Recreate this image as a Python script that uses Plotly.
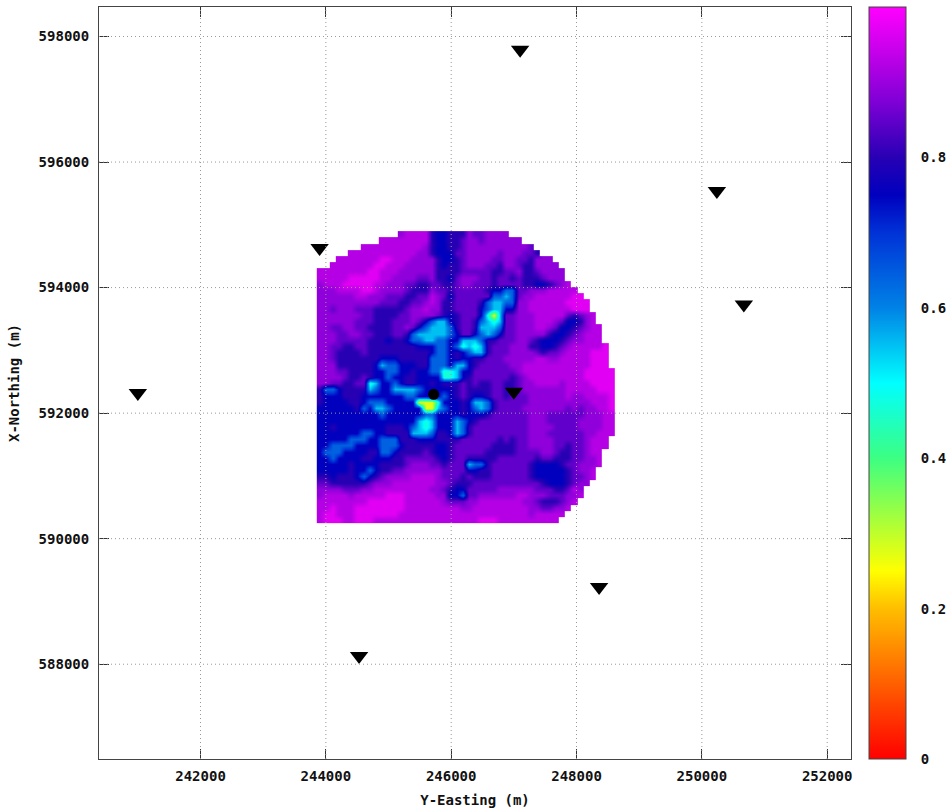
import plotly.graph_objects as go

font_family = "DejaVu Sans Mono"
x_ticks = [242000, 244000, 246000, 248000, 250000, 252000]
y_ticks = [588000, 590000, 592000, 594000, 596000, 598000]
cbar_ticks = [0, 0.2, 0.4, 0.6, 0.8, 1]
cbar_labels = ["0", "0.2", "0.4", "0.6", "0.8", "1"]

sensor_x = [241000, 243900, 247100, 250240, 250670, 247000, 248360, 244530]
sensor_y = [592320, 594630, 597790, 595540, 593730, 592340, 589230, 588130]
source_x = [245720]
source_y = [592300]

# Sampling grid
cell_m = 99
grid_x0 = 243905
grid_y_top = 594850
digit_value = {"0": 0.27, "1": 0.47, "2": 0.55, "3": 0.64, "4": 0.75,
               "5": 0.80, "6": 0.85, "7": 0.89, "8": 0.925, "9": 0.97}
rows = [
"...... ...... .78888 544555 766777 7..... ...... ......",
"...... ....88 888888 544556 776777 777... ...... ......",
"...... .88888 888887 544556 777777 77776. ...... ......",
".....8 888888 888877 544466 777776 777665 ...... ......",
"...888 888899 888777 754456 777766 776657 77.... ......",
"..8888 888998 887777 754556 777665 776557 777... ......",
"888888 889988 877777 755556 666655 667556 7777.. ......",
"888889 999988 777766 755467 776656 656555 6777.. ......",
"788899 999887 776655 665567 766656 666554 45678. ......",
"777888 899877 776555 766566 666544 336677 788888 ......",
"777777 887776 665566 876466 666633 236778 888889 9.....",
"777777 777766 655667 875566 665322 337788 888899 99....",
"776777 666555 556778 775566 664322 447788 888889 99....",
"777777 766555 566777 765456 664102 667778 888865 678...",
"777777 666555 666764 322456 653212 667778 887644 578...",
"776677 665555 667643 222356 652223 667778 876445 6788..",
"777667 766555 665322 222346 643234 667777 754456 7888..",
"777666 665554 554332 233442 223556 667765 444567 7888..",
"776655 665555 555544 433431 212566 677755 445678 88889.",
"776555 565555 555555 433454 322566 677776 566788 88999.",
"776555 555544 455555 333454 455666 777778 877888 88999.",
"777555 555423 344455 333422 456666 677888 888888 88999.",
"777665 555443 344544 331124 466666 667888 888888 899999",
"777765 565443 445544 441124 566666 656788 888888 899999",
"776655 661244 345544 545556 565566 556778 888788 889999",
"533455 552344 222234 444456 555566 556777 777788 888999",
"544455 544444 443344 543456 544566 566677 777787 788889",
"544445 543334 444400 014445 422356 666677 777777 778889",
"444444 534223 444440 023445 432356 666777 777767 677889",
"444444 444434 444443 344445 444566 666677 766666 677788",
"444444 444444 444421 244423 456666 666677 766666 777788",
"445444 444445 554321 244423 566666 666677 776666 777788",
"444444 433445 555222 355423 566666 666677 766666 677888",
"444443 334433 355544 455556 666665 656677 776666 67888.",
"443333 444433 345555 544566 666655 556677 776656 67888.",
"433344 445533 455556 544566 666555 556666 776556 6788..",
"443444 455444 556666 654566 555556 666665 665556 6778..",
"444445 444455 556777 665666 233566 666654 444566 7778..",
"444445 443455 667777 776666 445566 666654 444456 778...",
"554555 434567 777888 876665 655566 666654 444456 678...",
"665555 556777 888888 877655 566666 666666 544456 77....",
"777766 677888 888888 776544 666667 777776 665568 7.....",
"788887 888889 998888 877443 667777 778877 766677 8.....",
"888888 889999 998888 887666 778888 888776 555678 ......",
"889888 999999 998888 888887 788888 888877 66778. ......",
"899888 999999 988888 888888 888888 888878 8888.. ......",
"899988 999888 888888 888888 889998 888888 888... ......",
]

z = [[digit_value.get(ch) for ch in r.replace(" ", "")] for r in rows]
n_cols = len(z[0])
n_rows = len(z)
xs = [grid_x0 + i * cell_m for i in range(n_cols)]
ys = [grid_y_top - i * cell_m for i in range(n_rows)]

colorscale = [
    [0.0, "rgb(255,0,0)"], [0.2, "rgb(255,190,0)"], [0.25, "rgb(255,255,0)"],
    [0.4, "rgb(60,255,130)"], [0.5, "rgb(0,255,255)"], [0.6, "rgb(0,130,230)"],
    [0.7, "rgb(0,50,215)"], [0.75, "rgb(0,0,190)"], [0.8, "rgb(40,0,180)"],
    [0.877, "rgb(130,0,215)"], [0.943, "rgb(200,0,235)"], [1.0, "rgb(255,0,255)"],
]

tick_font_bold = dict(family=font_family, size=14, color="#111", weight="bold")
bar_left = (869 - 99) / 752
bar_right = (906 - 99) / 752
bar_tick = 10 / 752
grid_line = dict(color="#999", width=1, dash="1px,3px")

fig = go.Figure()
fig.add_trace(go.Heatmap(
    x=xs, y=ys, z=z, zmin=0, zmax=1, colorscale=colorscale, hoverongaps=False,
    zsmooth="best",
    colorbar=dict(
        x=bar_left, xanchor="left", xpad=0, y=0, yanchor="bottom",
        ypad=0, len=1, lenmode="fraction", thickness=37, thicknessmode="pixels",
        tickvals=cbar_ticks, ticktext=cbar_labels, ticks="outside", ticklen=12,
        tickcolor="rgba(0,0,0,0)", outlinecolor="#444", outlinewidth=1,
        tickfont=tick_font_bold,
    ),
))
fig.add_trace(go.Scatter(x=sensor_x, y=sensor_y, mode="markers", showlegend=False,
                         marker=dict(symbol="triangle-down", size=16, color="black")))
fig.add_trace(go.Scatter(x=source_x, y=source_y, mode="markers", showlegend=False,
                         marker=dict(symbol="circle", size=11, color="black")))

for t in x_ticks:
    fig.add_shape(type="line", x0=t, x1=t, y0=0, y1=1, xref="x", yref="paper",
                  line=grid_line, layer="above")
for t in y_ticks:
    fig.add_shape(type="line", y0=t, y1=t, x0=0, x1=1, yref="y", xref="paper",
                  line=grid_line, layer="above")
for v in cbar_ticks[1:-1]:
    fig.add_shape(type="line", x0=bar_left, x1=bar_left + bar_tick, y0=v, y1=v,
                  xref="paper", yref="paper", line=dict(color="#333", width=1), layer="above")
    fig.add_shape(type="line", x0=bar_right - bar_tick, x1=bar_right, y0=v, y1=v,
                  xref="paper", yref="paper", line=dict(color="#333", width=1), layer="above")

axis_common = dict(showgrid=False, zeroline=False, showline=True, linecolor="#444",
                   linewidth=1, mirror="ticks", ticks="inside", ticklen=10,
                   tickcolor="#333", tickfont=tick_font_bold, automargin=False)
fig.update_xaxes(range=[240380, 252380], tickvals=x_ticks,
                 ticktext=[str(v) for v in x_ticks], ticklabelstandoff=4,
                 title=dict(text="Y-Easting (m)", font=tick_font_bold, standoff=12),
                 **axis_common)
fig.update_yaxes(range=[586490, 598470], tickvals=y_ticks,
                 ticktext=[str(v) for v in y_ticks], ticklabelstandoff=6,
                 title=dict(text="X-Northing (m)", font=tick_font_bold, standoff=15),
                 **axis_common)
fig.update_layout(
    width=946, height=810, paper_bgcolor="white", plot_bgcolor="white",
    margin=dict(l=99, r=95, t=7, b=51, autoexpand=False), showlegend=False,
)
fig.write_html("out.html", config=dict(displayModeBar=False),
               post_script="document.body.style.margin='0';")
